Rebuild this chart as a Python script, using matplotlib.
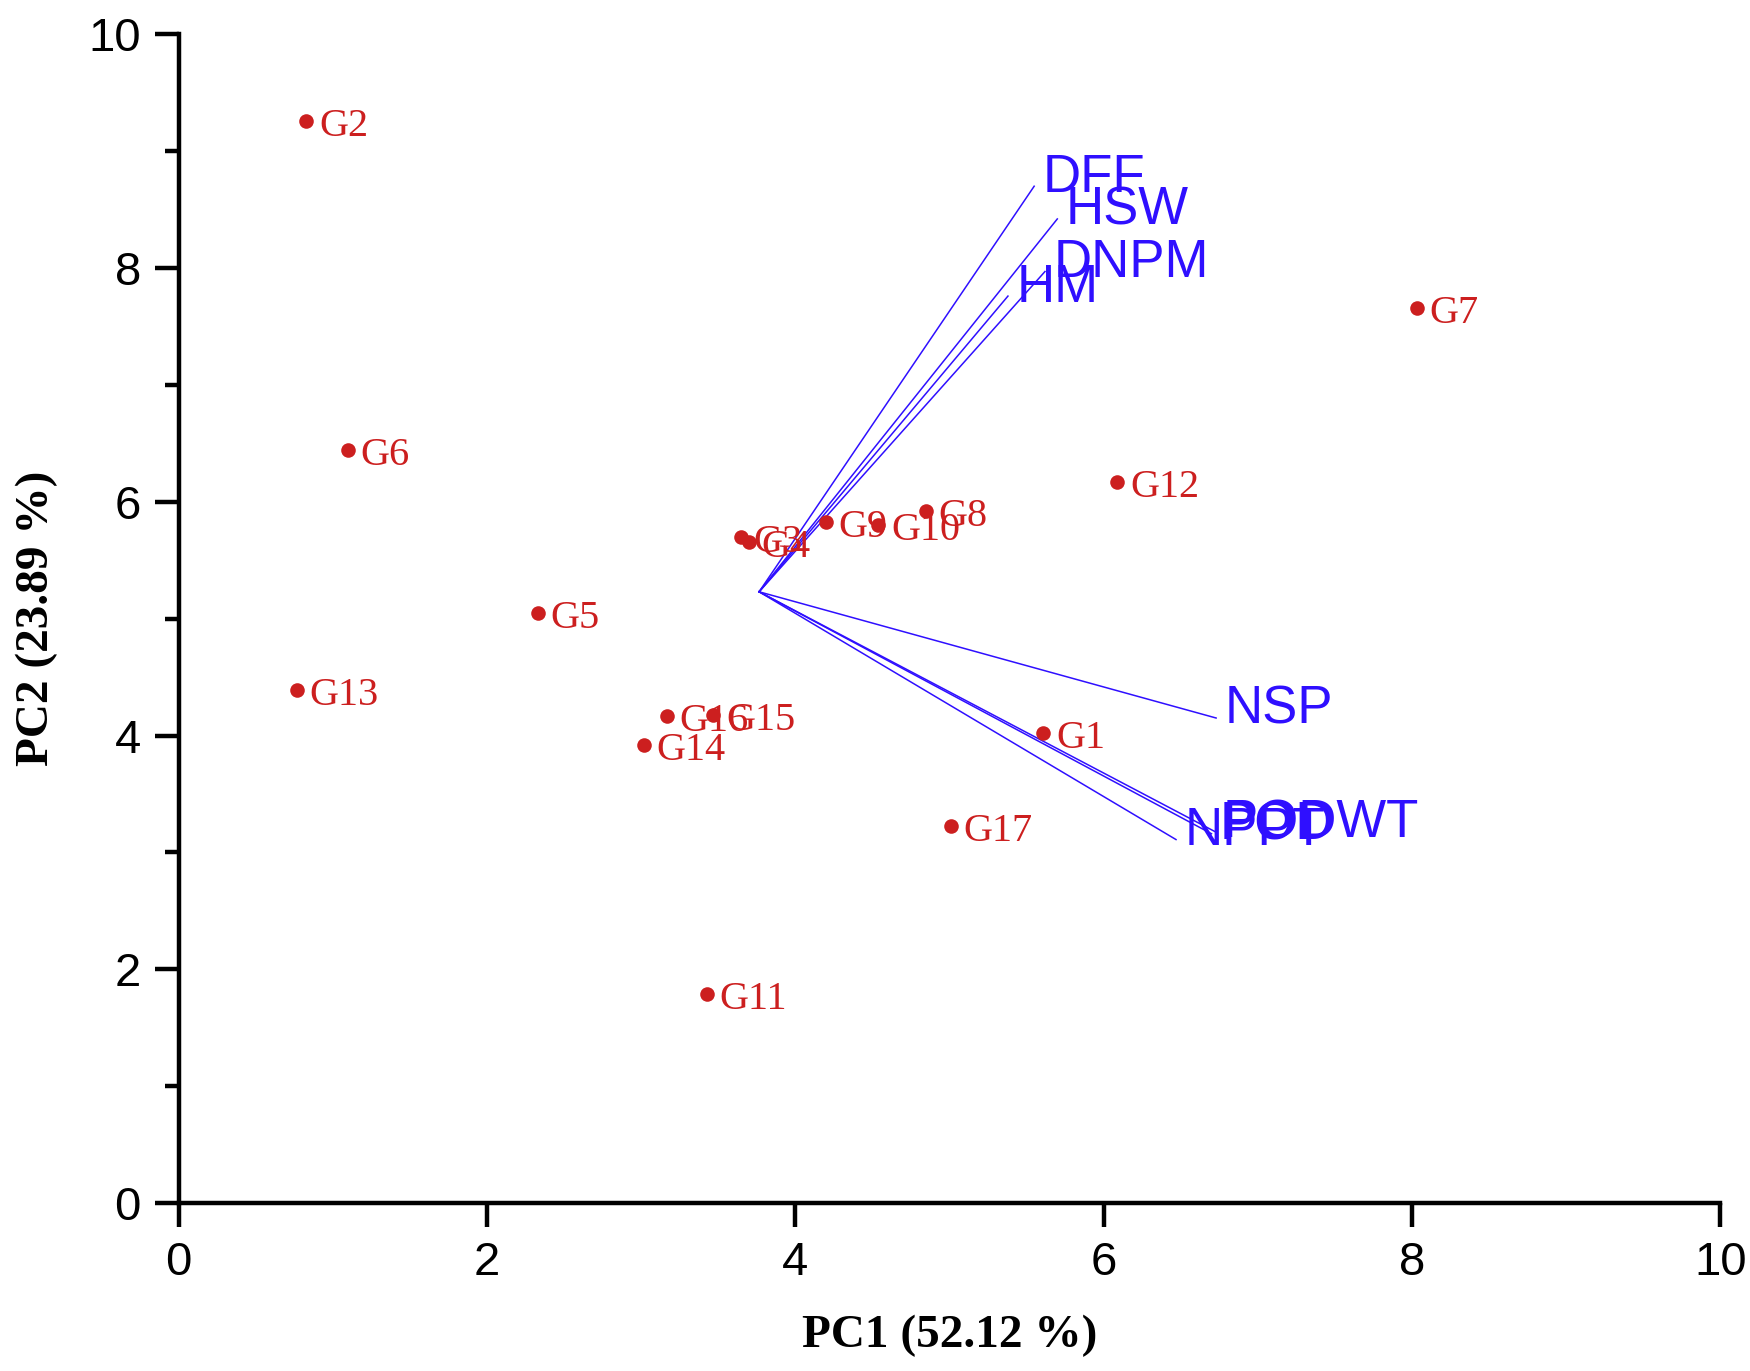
import numpy as np
import matplotlib
matplotlib.use("Agg")
import matplotlib.pyplot as plt
from matplotlib.ticker import MultipleLocator

# genotype scores
genos = ["G1", "G2", "G3", "G4", "G5", "G6", "G7", "G8", "G9", "G10",
         "G11", "G12", "G13", "G14", "G15", "G16", "G17"]
pc1 = [5.61, 0.83, 3.65, 3.70, 2.33, 1.10, 8.03, 4.85, 4.20, 4.54,
       3.43, 6.09, 0.77, 3.02, 3.47, 3.17, 5.01]
pc2 = [4.02, 9.26, 5.70, 5.66, 5.05, 6.44, 7.66, 5.92, 5.83, 5.80,
       1.79, 6.17, 4.39, 3.92, 4.18, 4.17, 3.23]

# trait vectors (start at common origin)
origin = (3.766, 5.23)
traits = ["DFF", "HSW", "DNPM", "HM", "NSP", "NPPT", "POD", "PODWT"]
trait_x = [5.55, 5.70, 5.62, 5.38, 6.73, 6.47, 6.70, 6.72]
trait_y = [8.70, 8.42, 7.97, 7.76, 4.15, 3.11, 3.16, 3.18]

red = "#cc1f1f"
blue = "#2f0fff"

fig = plt.figure(figsize=(17.5, 13.71), dpi=100)
ax = fig.add_axes([0.102, 0.1225, 0.881, 0.8525])

for name, tx, ty in zip(traits, trait_x, trait_y):
    ax.plot([origin[0], tx], [origin[1], ty], color=blue, lw=1.1)
    ax.annotate(name, (tx, ty), xytext=(6, 6), textcoords="offset points",
                ha="left", va="center", color=blue, fontsize=38,
                family="Liberation Sans")

ax.scatter(pc1, pc2, s=110, color=red, zorder=3, linewidths=0)
for g, x, y in zip(genos, pc1, pc2):
    ax.annotate(g, (x, y), xytext=(9, -4), textcoords="offset points",
                ha="left", va="center", color=red, fontsize=29,
                family="Liberation Serif")

ax.set_xlim(0, 10)
ax.set_ylim(0, 10)
ax.xaxis.set_major_locator(MultipleLocator(2))
ax.yaxis.set_major_locator(MultipleLocator(2))
ax.yaxis.set_minor_locator(MultipleLocator(1))
for s in ["top", "right"]:
    ax.spines[s].set_visible(False)
for s in ["left", "bottom"]:
    ax.spines[s].set_linewidth(3.2)
ax.tick_params(which="major", direction="out", length=17, width=3.2,
               labelsize=34, pad=10)
ax.tick_params(which="minor", direction="out", length=10, width=3.2)
for lab in ax.get_xticklabels() + ax.get_yticklabels():
    lab.set_family("Liberation Sans")

ax.set_xlabel("PC1 (52.12 %)", fontsize=34, fontweight="bold",
              family="Liberation Serif", labelpad=22)
ax.set_ylabel("PC2 (23.89 %)", fontsize=34, fontweight="bold",
              family="Liberation Serif", labelpad=22)

fig.savefig("out.png", dpi=100)
